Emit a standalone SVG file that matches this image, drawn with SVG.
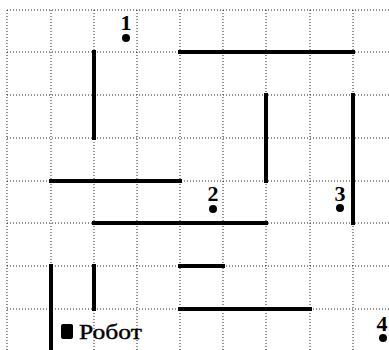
<svg xmlns="http://www.w3.org/2000/svg" width="389" height="350" viewBox="0 0 389 350">
<style>
.g{stroke:#222;stroke-width:1;stroke-dasharray:1 2;fill:none}
.w{stroke:#000;stroke-width:4;stroke-linecap:square;fill:none}
.n{font-family:"Liberation Serif",serif;font-weight:bold;font-size:22px;text-anchor:middle;fill:#000}
.d{fill:#000}
</style>
<rect width="389" height="350" fill="#fff"/>
<g id="grid">
<path class="g" d="M7 10H389M7 52H389M7 95H389M7 138H389M7 181H389M7 223H389M7 266H389M7 309H389"/>
<path class="g" d="M7 10V350M51 10V350M94 10V350M137 10V350M180 10V350M223 10V350M266 10V350M310 10V350M353 10V350"/>
</g>
<g id="walls">
<path class="w" d="M94 52V138"/>
<path class="w" d="M180 52H353"/>
<path class="w" d="M266 95V181"/>
<path class="w" d="M353 95V223"/>
<path class="w" d="M51 181H180"/>
<path class="w" d="M94 223H266"/>
<path class="w" d="M180 266H223"/>
<path class="w" d="M51 266V352"/>
<path class="w" d="M94 266V309"/>
<path class="w" d="M180 309H310"/>
</g>
<g id="p1"><text class="n" x="126" y="30">1</text><circle class="d" cx="126" cy="38" r="4"/></g>
<g id="p2"><text class="n" x="213" y="201">2</text><circle class="d" cx="213" cy="209" r="4"/></g>
<g id="p3"><text class="n" x="340" y="201">3</text><circle class="d" cx="340" cy="208" r="4"/></g>
<g id="p4"><text class="n" x="382" y="331">4</text><circle class="d" cx="383" cy="338" r="4"/></g>
<g id="robot">
<rect x="61" y="324" width="12" height="15" rx="2" fill="#000"/>
<text x="79" y="339" font-family="'Liberation Serif',serif" font-size="21" textLength="63" lengthAdjust="spacingAndGlyphs" stroke="#000" stroke-width="0.4" fill="#000">Робот</text>
</g>
</svg>
